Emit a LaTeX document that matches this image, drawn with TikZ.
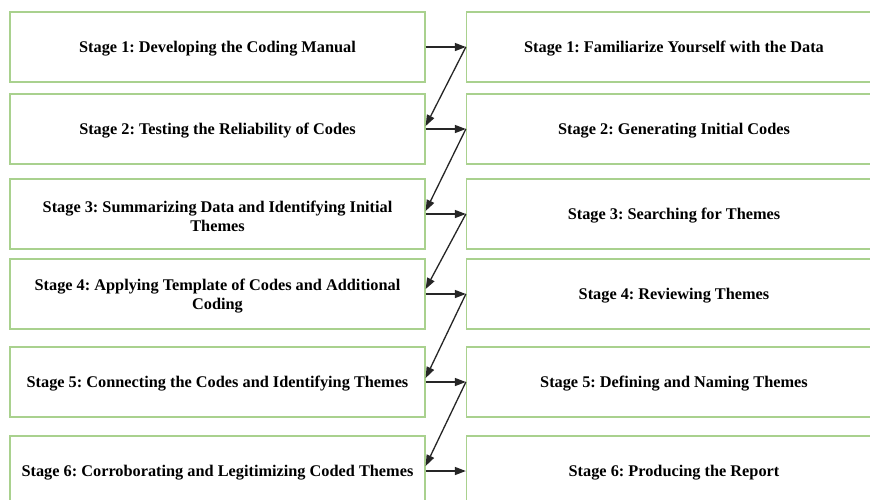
\documentclass[tikz,border=0pt]{standalone}
\usepackage{fontspec}
\setmainfont{Liberation Serif}
\usetikzlibrary{arrows.meta,calc}
\definecolor{boxgreen}{HTML}{A9D18E}
% taller first line so the text sits slightly below the box centre
\newcommand\firstlinestrut{\rule{0pt}{15.5pt}}
\tikzset{
  x=1pt, y=1pt,
  stagebox/.style={draw=boxgreen, line width=1.3pt, minimum width=415pt, minimum height=70pt,
    align=center, font=\fontsize{16.3}{19}\selectfont\bfseries\frenchspacing, inner sep=2pt},
  flow/.style={draw=black!85, line width=1.3pt, -{Triangle[length=11pt,width=8pt]}}
}
\begin{document}
\begin{tikzpicture}
\clip (0,0) rectangle (870,-499);
\fill[white] (0,0) rectangle (870,-499);

% left column
\node[stagebox] (L1) at (217.5,-47) {\firstlinestrut Stage 1: Developing the Coding Manual};
\node[stagebox] (L2) at (217.5,-129) {\firstlinestrut Stage 2: Testing the Reliability of Codes};
\node[stagebox] (L3) at (217.5,-214) {\firstlinestrut Stage 3: Summarizing Data and Identifying Initial\\Themes};
\node[stagebox] (L4) at (217.5,-294) {\firstlinestrut Stage 4: Applying Template of Codes and Additional\\Coding};
\node[stagebox] (L5) at (217.5,-382) {\firstlinestrut Stage 5: Connecting the Codes and Identifying Themes};
\node[stagebox] (L6) at (217.5,-471) {\firstlinestrut Stage 6: Corroborating and Legitimizing Coded Themes};

% right column
\node[stagebox] (R1) at (674,-47) {\firstlinestrut Stage 1: Familiarize Yourself with the Data};
\node[stagebox] (R2) at (674,-129) {\firstlinestrut Stage 2: Generating Initial Codes};
\node[stagebox] (R3) at (674,-214) {\firstlinestrut Stage 3: Searching for Themes};
\node[stagebox] (R4) at (674,-294) {\firstlinestrut Stage 4: Reviewing Themes};
\node[stagebox] (R5) at (674,-382) {\firstlinestrut Stage 5: Defining and Naming Themes};
\node[stagebox] (R6) at (674,-471) {\firstlinestrut Stage 6: Producing the Report};

% horizontal links
\draw[flow] (L1.east) -- (R1.west);
\draw[flow] (L2.east) -- (R2.west);
\draw[flow] (L3.east) -- (R3.west);
\draw[flow] (L4.east) -- (R4.west);
\draw[flow] (L5.east) -- (R5.west);
\draw[flow] (L6.east) -- (R6.west);

% diagonal links back to the next left stage
\draw[flow] (R1.west) -- ($(L2.east)+(0,3)$);
\draw[flow] (R2.west) -- ($(L3.east)+(0,3)$);
\draw[flow] (R3.west) -- ($(L4.east)+(0,5)$);
\draw[flow] (R4.west) -- ($(L5.east)+(0,4)$);
\draw[flow] (R5.west) -- ($(L6.east)+(0,5)$);
\end{tikzpicture}
\end{document}
